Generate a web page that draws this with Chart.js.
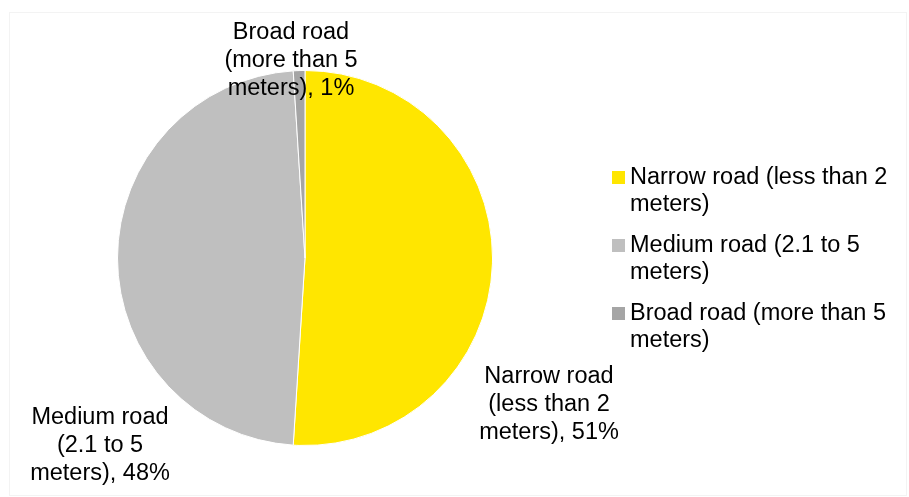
<!DOCTYPE html>
<html>
<head>
<meta charset="utf-8">
<script src="https://cdn.jsdelivr.net/npm/chart.js@4/dist/chart.umd.min.js"></script>
<style>
    html, body { margin: 0; padding: 0; background: #fff; }
    canvas { display: block; }
</style>
</head>
<body>
<canvas id="roadChart" width="909" height="497"></canvas>
<script>
const categories = [
    'Narrow road (less than 2 meters)',
    'Medium road (2.1 to 5 meters)',
    'Broad road (more than 5 meters)',
];
const shares = [51, 48, 1];
const sliceColors = ['#FFE600', '#BFBFBF', '#A5A5A5'];

const FONT = '23.5px "Liberation Sans", Arial, sans-serif';
const LINE = 28;

// where each slice's label sits, relative to the pie centre
const labelOffsets = [[244, 147], [-205, 188], [-14, -197]];

function wrap(ctx, text, maxWidth) {
    const lines = [];
    let line = '';
    text.split(' ').forEach((word) => {
        const next = line ? line + ' ' + word : word;
        if (line && ctx.measureText(next).width > maxWidth) {
            lines.push(line);
            line = word;
        } else {
            line = next;
        }
    });
    if (line) lines.push(line);
    return lines;
}

const frame = {
    id: 'frame',
    beforeDraw(chart) {
        const { ctx } = chart;
        ctx.save();
        ctx.strokeStyle = '#F3F3F3';
        ctx.lineWidth = 1;
        ctx.strokeRect(9.5, 12.5, 897, 483);
        ctx.restore();
    },
};

const sliceLabels = {
    id: 'sliceLabels',
    afterDatasetsDraw(chart) {
        const { ctx } = chart;
        const arcs = chart.getDatasetMeta(0).data;
        const values = chart.data.datasets[0].data;
        const total = values.reduce((a, b) => a + b, 0);
        ctx.save();
        ctx.font = FONT;
        ctx.fillStyle = '#000';
        ctx.textAlign = 'center';
        ctx.textBaseline = 'middle';
        arcs.forEach((arc, i) => {
            const pct = Math.round(values[i] / total * 100);
            const lines = wrap(ctx, chart.data.labels[i] + ', ' + pct + '%', 150);
            const cx = arc.x + labelOffsets[i][0];
            const cy = arc.y + labelOffsets[i][1] - (lines.length - 1) * LINE / 2;
            lines.forEach((l, j) => ctx.fillText(l, cx, cy + j * LINE));
        });
        ctx.restore();
    },
};

const sideLegend = {
    id: 'sideLegend',
    afterDraw(chart) {
        const { ctx } = chart;
        const colors = chart.data.datasets[0].backgroundColor;
        ctx.save();
        ctx.font = FONT;
        ctx.fillStyle = '#000';
        ctx.textAlign = 'left';
        ctx.textBaseline = 'middle';
        let y = 178;
        chart.data.labels.forEach((label, i) => {
            ctx.fillStyle = colors[i];
            ctx.fillRect(612, y - 7, 13, 13);
            ctx.fillStyle = '#000';
            const lines = wrap(ctx, label, 270);
            lines.forEach((l, j) => ctx.fillText(l, 630, y + j * 27));
            y += 68;
        });
        ctx.restore();
    },
};

new Chart(document.getElementById('roadChart'), {
    type: 'pie',
    data: {
        labels: categories,
        datasets: [{
            data: shares,
            backgroundColor: sliceColors,
            borderColor: '#fff',
            borderWidth: 1,
        }],
    },
    options: {
        responsive: false,
        animation: false,
        layout: { padding: { left: 117, right: 416, top: 70, bottom: 51 } },
        plugins: { legend: { display: false }, tooltip: { enabled: false } },
    },
    plugins: [frame, sliceLabels, sideLegend],
});
</script>
</body>
</html>
